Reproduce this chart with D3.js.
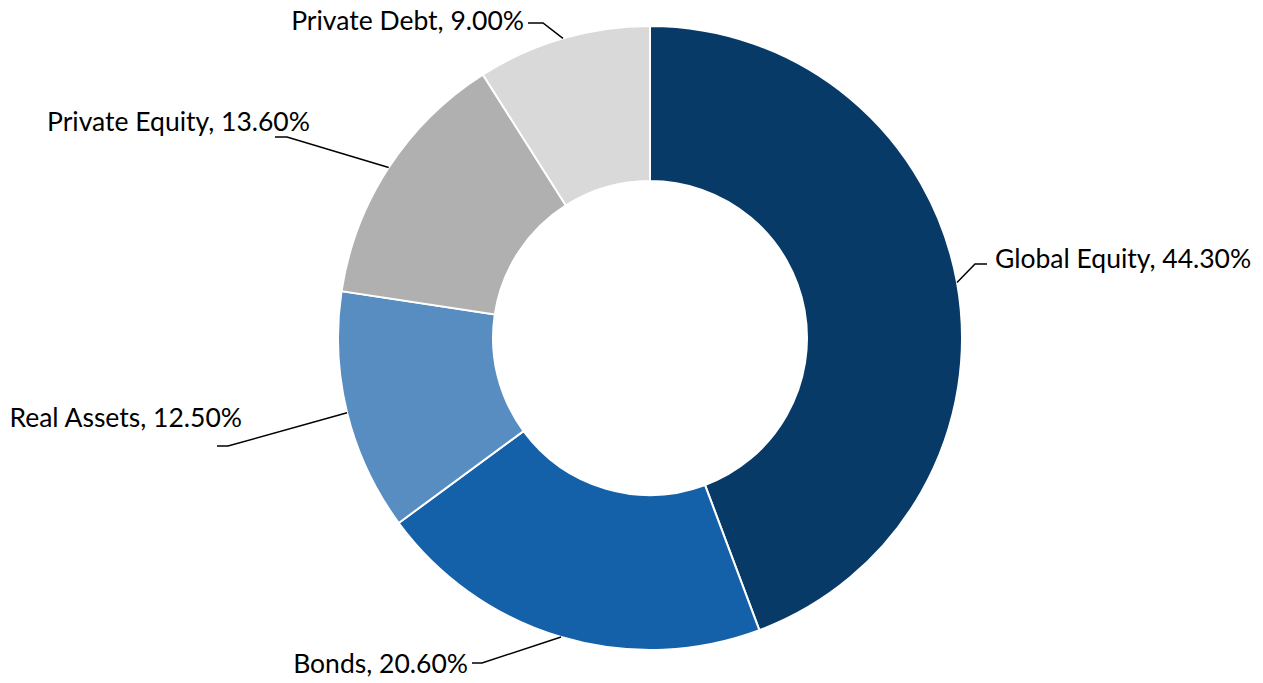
<!DOCTYPE html>
<html>
<head>
<meta charset="utf-8">
<script src="https://cdn.jsdelivr.net/npm/d3@7"></script>
<style>
  html, body { margin: 0; padding: 0; background: #fff; }
  svg { display: block; }
</style>
</head>
<body>
<svg id="chart" width="1263" height="683"></svg>
<script>
// ---- data ----
const categories = ["Global Equity", "Bonds", "Real Assets", "Private Equity", "Private Debt"];
const values = [44.3, 20.6, 12.5, 13.6, 9.0];
const colors = ["#083a68", "#1461a9", "#578dc1", "#b0b0b0", "#d9d9d9"];

// ---- layout: leader elbow, leader end x, text x, text baseline, anchor ----
const labelElbow = [[975, 264], [482, 663], [228, 446], [287, 137], [543, 23]];
const labelLineEnd = [987, 472, 217, 275, 528];
const labelText = [[995, 268, "start"], [468, 673, "end"], [242, 427, "end"], [310, 131, "end"], [524, 30, "end"]];

const width = 1263, height = 683;
const cx = 650, cy = 338, outerR = 312, innerR = 157;

const svg = d3.select("#chart");
const g = svg.append("g").attr("transform", `translate(${cx},${cy})`);

const data = categories.map((c, i) => ({ name: c, value: values[i], color: colors[i] }));
const pie = d3.pie().value(d => d.value).sort(null).startAngle(0).endAngle(2 * Math.PI);
const arcs = pie(data);
const arc = d3.arc().innerRadius(innerR).outerRadius(outerR);

g.selectAll("path.slice")
  .data(arcs)
  .join("path")
  .attr("class", "slice")
  .attr("d", arc)
  .attr("fill", d => d.data.color)
  .attr("stroke", "#fff")
  .attr("stroke-width", 2);

const fmt = d3.format(".2f");
arcs.forEach(a => {
  const mid = (a.startAngle + a.endAngle) / 2;
  const ax = cx + outerR * Math.sin(mid);
  const ay = cy - outerR * Math.cos(mid);
  const [ex, ey] = labelElbow[a.index];
  const hx = labelLineEnd[a.index];
  svg.append("polyline")
    .attr("points", `${ax},${ay} ${ex},${ey} ${hx},${ey}`)
    .attr("fill", "none")
    .attr("stroke", "#000")
    .attr("stroke-width", 1.5);
  const [tx, ty, anchor] = labelText[a.index];
  svg.append("text")
    .attr("x", tx)
    .attr("y", ty)
    .attr("text-anchor", anchor)
    .attr("font-family", "Lato, 'Open Sans', sans-serif")
    .attr("font-size", 26.5)
    .attr("fill", "#000")
    .text(`${a.data.name}, ${fmt(a.data.value)}%`);
});
</script>
</body>
</html>
